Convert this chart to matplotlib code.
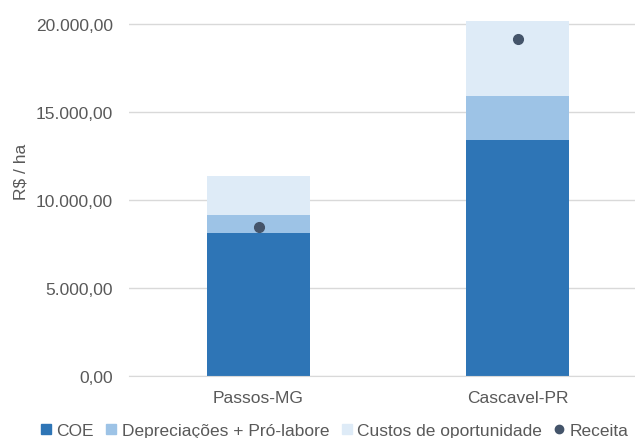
import numpy as np
import matplotlib
matplotlib.use("Agg")
from matplotlib import pyplot as plt
from matplotlib.lines import Line2D

plt.rcParams['font.family'] = ['Liberation Sans', 'DejaVu Sans']

regions = ['Passos-MG', 'Cascavel-PR']
coe = [8160, 13430]
deprec = [1000, 2465]
custos_op = [2195, 4275]
receita = [8490, 19150]
yticks = [0, 5000, 10000, 15000, 20000]

c_coe = '#2E75B6'
c_dep = '#9DC3E6'
c_op = '#DEEBF7'
c_rec = '#44546A'
txt = '#595959'

fig = plt.figure(figsize=(6.35, 4.39), dpi=100)
ax = fig.add_axes([129 / 635, 1 - 377.3 / 439, 518 / 635, (377.3 - 18) / 439])

x = np.arange(len(regions))
w = 0.4
coe = np.array(coe)
deprec = np.array(deprec)
custos_op = np.array(custos_op)

ax.bar(x, coe, w, color=c_coe, zorder=2)
ax.bar(x, deprec, w, bottom=coe, color=c_dep, zorder=2)
ax.bar(x, custos_op, w, bottom=coe + deprec, color=c_op, zorder=2)
ax.plot(x, receita, 'o', color=c_rec, markersize=7, zorder=3)

ax.set_xlim(-0.5, 1.5)
ax.set_ylim(0, 20400)
ax.set_yticks(yticks)
ax.set_yticklabels([f'{v:,.2f}'.replace(',', 'X').replace('.', ',').replace('X', '.') for v in yticks])
ax.set_xticks(x)
ax.set_xticklabels(regions)
ax.tick_params(axis='both', length=0, colors=txt, labelsize=12.5)
ax.tick_params(axis='y', pad=11.5)
ax.tick_params(axis='x', pad=10)
ax.grid(axis='y', color='#D9D9D9', linewidth=1, zorder=0)
for s in ['top', 'right', 'left']:
    ax.spines[s].set_visible(False)
ax.spines['bottom'].set_color('#D9D9D9')
fig.text(21 / 635, 1 - 172 / 439, 'R$ / ha', rotation=90, ha='center', va='center',
         color=txt, fontsize=12.5)

handles = [
    Line2D([], [], marker='s', linestyle='', color=c_coe, markersize=7),
    Line2D([], [], marker='s', linestyle='', color=c_dep, markersize=7),
    Line2D([], [], marker='s', linestyle='', color=c_op, markersize=7),
    Line2D([], [], marker='o', linestyle='', color=c_rec, markersize=6),
]
labels = ['COE', 'Depreciações + Pró-labore', 'Custos de oportunidade', 'Receita']
leg = fig.legend(handles, labels, loc='lower center', bbox_to_anchor=(333 / 635, -0.036),
                 ncol=4, frameon=False, fontsize=12.5, handletextpad=0.1,
                 columnspacing=0.5, handlelength=1.0)
for t in leg.get_texts():
    t.set_color(txt)

fig.savefig('out.png', dpi=100)
